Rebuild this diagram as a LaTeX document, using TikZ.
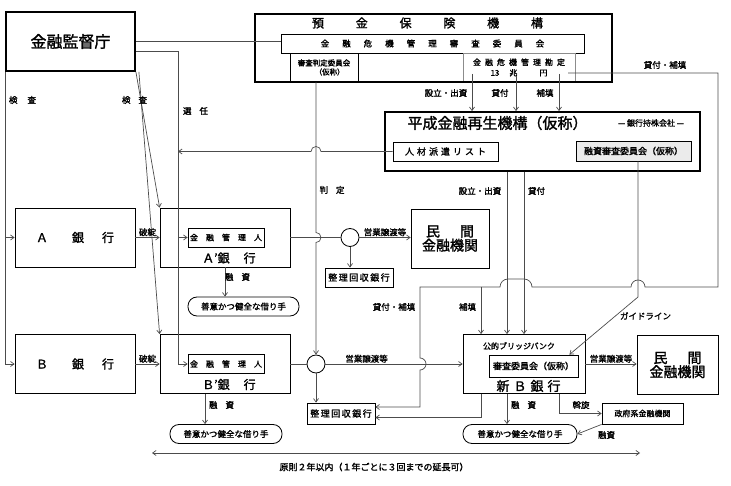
\documentclass[tikz,border=0pt]{standalone}
\usepackage{fontspec}
\setmainfont{Noto Sans CJK JP}[AutoFakeBold=1.6]
\usetikzlibrary{arrows.meta,calc}

\newcommand{\fsz}[2]{\fontsize{#1}{#2}\selectfont\bfseries}
\makeatletter
\newcommand{\spreadtext}[2]{%
  \def\spread@sep{}%
  \@tfor\spread@c:=#2\do{\spread@sep\spread@c\def\spread@sep{\hspace{#1}}}}
\makeatother

\tikzset{
  box/.style={draw, line width=0.8pt, inner sep=0pt},
  heavy/.style={draw, line width=1.8pt, inner sep=0pt},
  zen/.style={draw, line width=0.8pt, rounded corners=9pt, minimum height=19pt, inner sep=0pt, font=\fsz{8.5}{9}},
  wire/.style={draw=black!70, line width=0.7pt},
  arr/.style={wire, -{Straight Barb[length=3.5pt,width=5pt]}},
  lbl/.style={font=\fsz{8.5}{9}, inner sep=1pt},
}

\begin{document}
\begin{tikzpicture}[x=1pt, y=-1pt]
  \useasboundingbox (0,0) rectangle (731,486);

  % top boxes
  \node[heavy, minimum width=129pt, minimum height=59pt, font=\fsz{16}{16}] (fsa) at (70.5,41.5) {金融監督庁};

  \node[box, minimum width=303pt, minimum height=19pt, font=\fsz{8.5}{9}] (cmt) at (432.5,43.5) {\spreadtext{13pt}{金融危機管理審査委員会}};
  \node[box, minimum width=68pt, minimum height=29pt, align=center, font=\fsz{7.5}{9}] (hantei) at (324,67.5) {審査判定委員会\\\hspace{1.5em}（仮称）};
  \node[box, minimum width=105pt, minimum height=29pt] (blank) at (410.5,67.5) {};
  \node[box, draw=black!45, minimum width=112pt, minimum height=29pt, align=center, font=\fsz{8}{10.5}] (kanjo) at (519,67.5) {\spreadtext{4pt}{金融危機管理勘定}\\13\hspace{10pt}兆\hspace{22pt}円};
  \node[heavy, minimum width=357pt, minimum height=68pt] (dic) at (433.5,48) {};
  \node[font=\fsz{12}{12}] (dicname) at (427.5,23) {\spreadtext{2.65em}{預金保険機構}};

  \node[heavy, minimum width=315pt, minimum height=59pt] (heisei) at (542.5,141.5) {};
  \node[font=\fsz{15}{15}] (heiname) at (497.5,123) {平成金融再生機構（仮称）};
  \node[font=\fsz{8}{8}] (holding) at (651,123) {— 銀行持株会社 —};
  \node[box, minimum width=105pt, minimum height=19pt, font=\fsz{9}{9}] (jinzai) at (445.5,151.5) {\spreadtext{3pt}{人材派遣リスト}};
  \node[box, fill=black!8, minimum width=115pt, minimum height=20pt, font=\fsz{9}{9}] (yushin) at (633.5,151) {融資審査委員会（仮称）};

  % A row
  \node[box, minimum width=120pt, minimum height=59pt, font=\fsz{12}{12}] (bankA) at (75,237.5) {Ａ\hspace{24pt}銀\hspace{18pt}行};
  \node[box, minimum width=130pt, minimum height=59pt] (bankAp) at (225,237.5) {};
  \node[box, minimum width=76pt, minimum height=19pt, font=\fsz{8}{8}] (kanriA) at (226,237.5) {\spreadtext{1em}{金融管理人}};
  \node[font=\fsz{12}{12}] (nameAp) at (229,258) {Ａ’銀\hspace{14pt}行};
  \node[zen, minimum width=111pt] (zenA) at (243.5,306.5) {善意かつ健全な借り手};
  \node[circle, box, minimum size=18pt] (circA) at (350,237.5) {};
  \node[box, minimum width=68pt, minimum height=19pt, font=\fsz{9}{9}] (seiriA) at (359,277.5) {\spreadtext{1.5pt}{整理回収銀行}};
  \node[box, minimum width=78pt, minimum height=59pt, align=center, font=\fsz{14}{14}] (minA) at (450,238.5) {民\hspace{20pt}間\\金融機関};

  % B row
  \node[box, minimum width=120pt, minimum height=59pt, font=\fsz{12}{12}] (bankB) at (75,364) {Ｂ\hspace{24pt}銀\hspace{18pt}行};
  \node[box, minimum width=130pt, minimum height=59pt] (bankBp) at (225,364) {};
  \node[box, minimum width=76pt, minimum height=19pt, font=\fsz{8}{8}] (kanriB) at (226,364) {\spreadtext{1em}{金融管理人}};
  \node[font=\fsz{12}{12}] (nameBp) at (229,384.5) {Ｂ’銀\hspace{14pt}行};
  \node[zen, minimum width=112pt] (zenB) at (226,434) {善意かつ健全な借り手};
  \node[circle, box, minimum size=18pt] (circB) at (316,364) {};
  \node[box, minimum width=68pt, minimum height=21pt, font=\fsz{9}{9}] (seiriB) at (341,413.5) {\spreadtext{1.5pt}{整理回収銀行}};

  \node[box, minimum width=122pt, minimum height=59pt] (newB) at (524,364) {};
  \node[font=\fsz{8}{8}] (bridge) at (519,346) {公的ブリッジバンク};
  \node[box, minimum width=89pt, minimum height=22pt, font=\fsz{9}{9}] (shinsaB) at (533.5,366) {審査委員会（仮称）};
  \node[font=\fsz{13}{13}] (nameNB) at (528.5,386) {\spreadtext{4pt}{新Ｂ銀行}};
  \node[box, minimum width=81pt, minimum height=59pt, align=center, font=\fsz{14}{14}] (minB) at (677.5,365) {民\hspace{20pt}間\\金融機関};
  \node[zen, minimum width=114pt] (zenC) at (520,434) {善意かつ健全な借り手};
  \node[box, minimum width=81pt, minimum height=21pt, font=\fsz{8}{8}] (gov) at (642.5,413.5) {政府系金融機関};

  \coordinate (selx) at (178,0);
  \coordinate (k1) at (472,74);
  \coordinate (k2) at (516,76);
  \coordinate (k3) at (559,74);
  \coordinate (kout) at (568,73);
  \coordinate (rloop) at (718,287);
  \coordinate (hoten) at (481,287);
  \coordinate (lk) at (420,407);
  \coordinate (s1) at (507,0);
  \coordinate (s2) at (524,0);
  \coordinate (gbend) at (638,297);
  \coordinate (spanL) at (152,453);
  \coordinate (spanR) at (640,453);

  % 検査
  \draw[arr] (fsa.south west) |- (bankB.west);
  \draw[arr] (fsa.south west |- bankA.west) -- (bankA.west);
  \draw[arr] (fsa.south east) -- (bankAp.north west);
  \draw[arr] ([xshift=3pt]fsa.south east) -- (bankBp.north west);
  \node[lbl] (insp1) at (22.5,100) {検\hspace{10pt}査};
  \node[lbl] (insp2) at (134.5,100) {検\hspace{8pt}査};

  % 選任
  \draw[wire] (fsa.east) -- (fsa.east -| cmt.west);
  \draw[arr] ([yshift=-10pt]fsa.east) -| (selx |- kanriB.west) -- (kanriB.west);
  \draw[arr] (selx |- kanriA.west) -- (kanriA.west);
  \node[lbl] (sel) at (195.5,111) {選\hspace{8pt}任};
  \draw[arr] (jinzai.west) -- (321,151.5) arc[start angle=0, end angle=180, radius=5pt] -- (selx |- jinzai.west);

  % 判定
  \draw[arr] (hantei.south -| circB) -- (316,232.5) arc[start angle=90, end angle=-90, radius=5pt] -- (circB.north);
  \node[lbl] (judge) at (332,190) {判\hspace{8pt}定};

  % 破綻
  \draw[arr] (bankA.east) -- (bankAp.west) node[midway, above, lbl] {破綻};
  \draw[arr] (bankB.east) -- (bankBp.west) node[midway, above, lbl] {破綻};

  % 融資
  \draw[arr] (bankAp.south) -- (bankAp.south |- zenA.north);
  \node[lbl] (loanA) at (237.5,277) {融\hspace{8pt}資};
  \draw[arr] ([xshift=-20pt]bankBp.south) -- ([xshift=-20pt]bankBp.south |- zenB.north);
  \node[lbl] (loanB) at (221.5,405) {融\hspace{8pt}資};

  % A' and B' flows
  \draw[wire] (bankAp.east) -- (circA.west);
  \draw[arr] (circA.east) -- (circA.east -| minA.west) node[midway, above, lbl] {営業譲渡等};
  \draw[arr] (circA.south) -- (circA.south |- seiriA.north);
  \draw[wire] (bankBp.east) -- (circB.west);
  \draw[arr] (circB.east) -- (newB.west) node[pos=0.3, above, lbl] {営業譲渡等};
  \draw[arr] (circB.south) -- (circB.south |- seiriB.north);

  % 金融危機管理勘定
  \draw[arr] (k1) -- (k1 |- heisei.north);
  \draw[arr] (k2) -- (k2 |- heisei.north);
  \draw[arr] (k3) -- (k3 |- heisei.north);
  \node[lbl] (est1) at (446,93) {設立・出資};
  \node[lbl] (lend1) at (500,93) {貸付};
  \node[lbl] (comp1) at (545,93) {補填};

  \draw[arr] (kout) -| (rloop) -- (645,287) arc[start angle=0, end angle=180, radius=7pt]
    -- (532,287) arc[start angle=0, end angle=90, radius=8pt] -- (508,279) arc[start angle=90, end angle=180, radius=8pt]
    -- (lk |- rloop) -- (420,358) arc[start angle=90, end angle=-90, radius=6pt] -- (lk) -- (lk -| seiriB.east);
  \draw[arr] (hoten) -- (hoten |- newB.north);
  \node[lbl] (lc1) at (665,65) {貸付・補填};
  \node[lbl] (lc2) at (394,307) {貸付・補填};
  \node[lbl] (comp2) at (467.5,307) {補填};

  % 平成金融再生機構
  \draw[arr] (s1 |- heisei.south) -- (s1 |- newB.north);
  \draw[arr] (s2 |- heisei.south) -- (s2 |- newB.north);
  \node[lbl] (est2) at (480,191) {設立・出資};
  \node[lbl] (lend2) at (536.5,191) {貸付};
  \draw[arr] (yushin.south -| gbend) -- (gbend) -- ([xshift=-9pt]shinsaB.north east);
  \node[lbl] (guide) at (645.5,316) {ガイドライン};

  % 新B銀行
  \draw[arr] (newB.east) -- (newB.east -| minB.west) node[midway, above, lbl] {営業譲渡等};
  \draw[arr] (hoten |- newB.south) |- ([yshift=-4pt]seiriB.east);
  \draw[arr] (s1 |- newB.south) -- (s1 |- zenC.north);
  \node[lbl] (loanC) at (523.5,405) {融\hspace{8pt}資};
  \draw[arr] ([xshift=35pt]newB.south) |- (gov.west);
  \node[lbl] (med) at (581,405) {斡旋};
  \draw[arr] (gov.south west) -- (zenC.east);
  \node[lbl] (loanD) at (606.5,435) {融資};

  % period
  \draw[wire, {Straight Barb[length=3.5pt,width=5pt]}-{Straight Barb[length=3.5pt,width=5pt]}] (spanL) -- (spanR);
  \node[font=\fsz{9}{9}] (period) at (374,467) {原則２年以内（１年ごとに３回までの延長可）};
\end{tikzpicture}
\end{document}
